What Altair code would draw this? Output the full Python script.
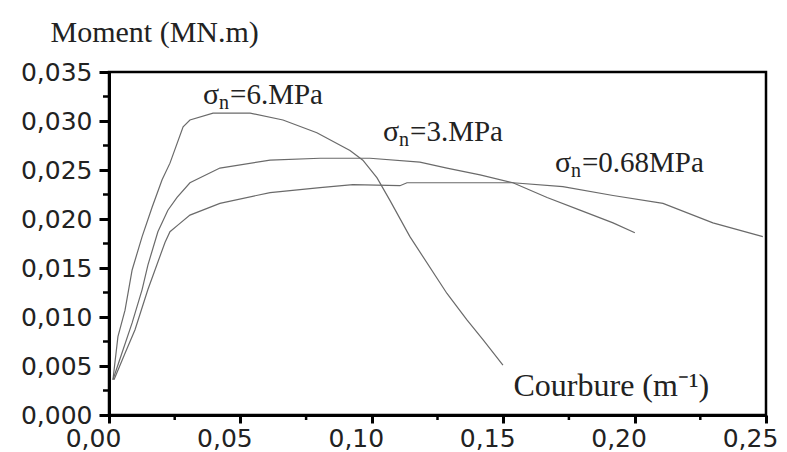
import altair as alt
import pandas as pd

# ---- data ----
x_6 = [0.0015, 0.0034, 0.0061, 0.0088, 0.0126, 0.0164, 0.0202, 0.0232, 0.0282, 0.0308,
       0.0396, 0.0537, 0.0662, 0.0791, 0.0917, 0.0966, 0.1020, 0.1069, 0.1145, 0.1286,
       0.1362, 0.1423, 0.1499]
y_6 = [0.0036, 0.0080, 0.0107, 0.0148, 0.0182, 0.0212, 0.0240, 0.0257, 0.0294, 0.0301,
       0.0308, 0.0308, 0.0301, 0.0288, 0.0270, 0.0260, 0.0242, 0.0219, 0.0182, 0.0124,
       0.0097, 0.0077, 0.0051]

x_3 = [0.0015, 0.0049, 0.0088, 0.0126, 0.0148, 0.0186, 0.0224, 0.0259, 0.0308, 0.0422,
       0.0613, 0.0803, 0.0993, 0.1183, 0.1286, 0.1412, 0.1537, 0.1667, 0.1792, 0.1918,
       0.2001]
y_3 = [0.0036, 0.0063, 0.0094, 0.0128, 0.0153, 0.0187, 0.0209, 0.0222, 0.0237, 0.0252,
       0.0260, 0.0262, 0.0262, 0.0258, 0.0252, 0.0245, 0.0237, 0.0222, 0.0209, 0.0196,
       0.0186]

x_068 = [0.0019, 0.0061, 0.0099, 0.0148, 0.0175, 0.0213, 0.0232, 0.0263, 0.0308, 0.0422,
         0.0613, 0.0803, 0.0928, 0.1107, 0.1134, 0.1286, 0.1537, 0.1727, 0.1918, 0.2108,
         0.2298, 0.2488]
y_068 = [0.0036, 0.0063, 0.0087, 0.0128, 0.0148, 0.0176, 0.0187, 0.0194, 0.0204, 0.0216,
         0.0227, 0.0232, 0.0235, 0.0234, 0.0237, 0.0237, 0.0237, 0.0233, 0.0224, 0.0216,
         0.0196, 0.0182]

x_ticks = [0.0, 0.05, 0.10, 0.15, 0.20, 0.25]
x_minor = [0.025, 0.075, 0.125, 0.175, 0.225]
y_ticks = [0.0, 0.005, 0.010, 0.015, 0.020, 0.025, 0.030, 0.035]
y_minor = [0.0025, 0.0075, 0.0125, 0.0175, 0.0225, 0.0275, 0.0325]

label_rest = ["=6.MPa", "=3.MPa", "=0.68MPa"]
label_x = [0.0358, 0.1043, 0.1697]
label_y = [0.03265, 0.02888, 0.02571]

# ---- tables ----
frames = []
for name, xs, ys in [("6", x_6, y_6), ("3", x_3, y_3), ("0.68", x_068, y_068)]:
    frames.append(pd.DataFrame({"x": xs, "y": ys, "series": name, "i": range(len(xs))}))
curves = pd.concat(frames, ignore_index=True)

labels = pd.DataFrame({"x": label_x, "y": label_y, "rest": label_rest})

W, H = 657, 343
xscale = alt.Scale(domain=[0, 0.25], nice=False, zero=False)
yscale = alt.Scale(domain=[0, 0.035], nice=False, zero=False)

x_axis = alt.Axis(
    values=x_ticks,
    labelExpr="replace(format(datum.value, '.2f'), '.', ',')",
    labelFont="DejaVu Sans", labelFontSize=25, labelColor="#222",
    labelOffset=-16, labelPadding=3, labelFlush=False, labelOverlap=False,
    tickSize=8, tickWidth=3, tickColor="black",
    domainWidth=3, domainColor="black", grid=False,
    title="Courbure (m\u207b\u00b9)", titleFont="Liberation Serif", titleFontSize=32,
    titleFontWeight="normal", titleColor="#222",
    titleAnchor="start", titleAlign="left", titleBaseline="middle",
    titleX=404, titleY=-30,
)
y_axis = alt.Axis(
    values=y_ticks,
    labelExpr="replace(format(datum.value, '.3f'), '.', ',')",
    labelFont="DejaVu Sans", labelFontSize=25, labelColor="#222",
    labelPadding=7, labelFlush=False, labelOverlap=False,
    tickSize=10, tickWidth=3, tickColor="black",
    domainWidth=3, domainColor="black", grid=False,
    title="Moment (MN.m)", titleFont="Liberation Serif", titleFontSize=30,
    titleFontWeight="normal", titleColor="#222", titleAngle=0,
    titleAlign="left", titleBaseline="middle", titleX=-59, titleY=-40,
)

X = alt.X("x:Q", scale=xscale, axis=x_axis)
Y = alt.Y("y:Q", scale=yscale, axis=y_axis)

lines = alt.Chart(curves).mark_line(color="#6a6a6a", strokeWidth=1.2).encode(
    x=X, y=Y, detail="series:N", order="i:Q",
)

yminor = alt.Chart(pd.DataFrame({"y": y_minor})).mark_rule(color="black", strokeWidth=2.5).encode(
    y=Y, x=alt.value(-6), x2=alt.value(0)
)
xminor = alt.Chart(pd.DataFrame({"x": x_minor})).mark_rule(color="black", strokeWidth=2.5).encode(
    x=X, y=alt.value(H), y2=alt.value(H + 5)
)

base_t = alt.Chart(labels).encode(x=X, y=Y)
sig = base_t.mark_text(text="\u03c3", font="Liberation Serif", fontSize=30, align="left",
                       baseline="middle", color="#222")
sub = base_t.mark_text(text="n", font="Liberation Serif", fontSize=20, align="left",
                       baseline="middle", dx=16, dy=8, color="#222")
rest = base_t.mark_text(font="Liberation Serif", fontSize=29, align="left",
                        baseline="middle", dx=27, color="#222").encode(text="rest:N")

chart = alt.layer(lines, yminor, xminor, sig, sub, rest).properties(
    width=W, height=H,
    autosize=alt.AutoSizeParams(type="none"),
    padding={"left": 101, "top": 64, "right": 13, "bottom": 37},
).configure_view(stroke="black", strokeWidth=2.5)

chart.save("out.html", embed_options={"renderer": "svg", "actions": False})
